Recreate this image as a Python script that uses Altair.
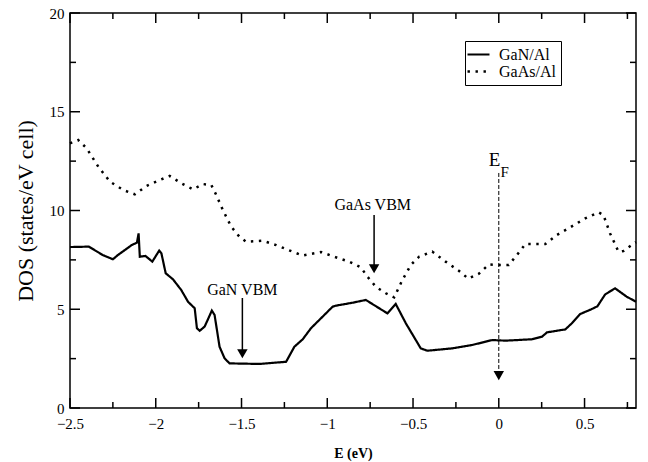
import altair as alt
import pandas as pd

# ---- data ----
gan_e = [-2.5, -2.39, -2.31, -2.25, -2.22, -2.14, -2.11, -2.10, -2.093, -2.06, -2.02, -1.98, -1.967,
         -1.942, -1.90, -1.851, -1.812, -1.773, -1.760, -1.744, -1.715, -1.673, -1.657, -1.628,
         -1.599, -1.570, -1.395, -1.24, -1.192, -1.143, -1.095, -1.008, -0.969, -0.95, -0.853,
         -0.775, -0.649, -0.601, -0.542, -0.455, -0.417, -0.271, -0.155, -0.039, 0.039, 0.194,
         0.252, 0.281, 0.388, 0.426, 0.475, 0.54, 0.575, 0.62, 0.678, 0.745, 0.8]
gan_dos = [8.15, 8.17, 7.75, 7.53, 7.75, 8.25, 8.37, 8.84, 7.66, 7.70, 7.41, 7.97, 7.83,
           6.82, 6.52, 5.97, 5.38, 5.05, 4.04, 3.91, 4.12, 4.93, 4.71, 3.10,
           2.52, 2.26, 2.23, 2.34, 3.10, 3.48, 4.04, 4.79, 5.13, 5.18, 5.33,
           5.47, 4.79, 5.27, 4.29, 3.02, 2.90, 3.02, 3.19, 3.44, 3.41, 3.48,
           3.61, 3.83, 3.98, 4.29, 4.76, 5.0, 5.15, 5.75, 6.06, 5.64, 5.38]

gaas_e = [-2.5, -2.452, -2.403, -2.335, -2.267, -2.19, -2.122, -2.054, -1.977, -1.919, -1.851,
          -1.783, -1.725, -1.676, -1.647, -1.609, -1.560, -1.512, -1.473, -1.376, -1.298, -1.201,
          -1.143, -1.037, -0.95, -0.872, -0.804, -0.766, -0.717, -0.659, -0.61, -0.562, -0.513,
          -0.465, -0.388, -0.31, -0.233, -0.178, -0.116, -0.058, 0.0, 0.058, 0.106, 0.155, 0.271,
          0.339, 0.407, 0.504, 0.581, 0.610, 0.649, 0.698, 0.727, 0.775, 0.8]
gaas_dos = [13.4, 13.57, 13.15, 12.22, 11.46, 11.04, 10.82, 11.24, 11.54, 11.75, 11.38,
            11.07, 11.34, 11.29, 10.78, 10.03, 9.18, 8.67, 8.42, 8.47, 8.25, 7.91,
            7.72, 7.90, 7.63, 7.41, 7.12, 6.65, 6.14, 5.81, 5.6, 6.48, 7.24,
            7.66, 7.92, 7.41, 6.95, 6.55, 6.8, 7.27, 7.24, 7.24, 7.75, 8.30, 8.30,
            8.76, 9.1, 9.6, 9.91, 9.77, 8.84, 7.91, 7.95, 8.25, 8.4]

series_names = ["GaN/Al", "GaAs/Al"]

x_major = [-2.5, -2.0, -1.5, -1.0, -0.5, 0.0, 0.5]
x_minor = [-2.25, -1.75, -1.25, -0.75, -0.25, 0.25, 0.75]
y_major = [0, 5, 10, 15, 20]
y_minor = [2.5, 7.5, 12.5, 17.5]

# annotations: arrows (x, start, tip) and labels
arrow_x = [-1.495, -0.727]
arrow_y1 = [5.57, 9.77]
arrow_tip = [2.43, 6.73]
arrow_labels = ["GaN VBM", "GaAs VBM"]
label_x = [-1.495, -0.735]
label_y = [5.97, 10.28]

ef_x = [0.0]
ef_y1 = [11.9]
ef_tip = [1.32]

W, H = 566, 395
FONT = "Liberation Serif"

xs = alt.Scale(domain=[-2.5, 0.8], nice=False, zero=False)
ys = alt.Scale(domain=[0, 20], nice=False)

df = pd.DataFrame({
    "E": gan_e + gaas_e,
    "DOS": gan_dos + gaas_dos,
    "series": [series_names[0]] * len(gan_e) + [series_names[1]] * len(gaas_e),
})

lines = alt.Chart(df).mark_line(color="black", strokeCap="butt").encode(
    x=alt.X("E:Q", scale=xs,
            axis=alt.Axis(title="E (eV)", values=x_major, ticks=False, domain=False, grid=False,
                          format="~g",
                          labelFont=FONT, labelFontSize=15, labelFontWeight="normal",
                          labelPadding=8, titleFont=FONT, titleFontSize=14,
                          titleFontWeight="bold", titlePadding=15, labelFlush=False)),
    y=alt.Y("DOS:Q", scale=ys,
            axis=alt.Axis(title="DOS (states/eV cell)", values=y_major, ticks=False, domain=False,
                          grid=False, labelFont=FONT, labelFontSize=15, labelFontWeight="normal",
                          labelPadding=6, titleFont=FONT, titleFontSize=22,
                          titleFontWeight="normal", titlePadding=12, labelFlush=False)),
    strokeDash=alt.StrokeDash("series:N",
                              scale=alt.Scale(domain=series_names, range=[[1, 0], [2.4, 5.6]]),
                              legend=alt.Legend(title=None, orient="none", legendX=395, legendY=28)),
    strokeWidth=alt.StrokeWidth("series:N",
                                scale=alt.Scale(domain=series_names, range=[2.2, 2.5]),
                                legend=None),
    detail="series:N",
)

# inward tick marks on all four edges
def xticks(vals, length):
    d = pd.DataFrame({"v": vals})
    bottom = alt.Chart(d).mark_rule(color="black", strokeWidth=1.5).encode(
        x=alt.X("v:Q", scale=xs), y=alt.value(H), y2=alt.value(H - length))
    top = alt.Chart(d).mark_rule(color="black", strokeWidth=1.5).encode(
        x=alt.X("v:Q", scale=xs), y=alt.value(0), y2=alt.value(length))
    return [bottom, top]

def yticks(vals, length):
    d = pd.DataFrame({"v": vals})
    left = alt.Chart(d).mark_rule(color="black", strokeWidth=1.5).encode(
        y=alt.Y("v:Q", scale=ys), x=alt.value(0), x2=alt.value(length))
    right = alt.Chart(d).mark_rule(color="black", strokeWidth=1.5).encode(
        y=alt.Y("v:Q", scale=ys), x=alt.value(W), x2=alt.value(W - length))
    return [left, right]

ticks = xticks(x_major, 10) + xticks(x_minor, 6) + yticks(y_major, 10) + yticks(y_minor, 6)

adf = pd.DataFrame({"x": arrow_x, "y1": arrow_y1, "tip": arrow_tip,
                    "head": [t + 0.32 for t in arrow_tip]})
shafts = alt.Chart(adf).mark_rule(color="black", strokeWidth=1.5).encode(
    x=alt.X("x:Q", scale=xs), y=alt.Y("y1:Q", scale=ys), y2="head:Q")
heads = alt.Chart(adf).mark_point(shape="triangle-down", filled=True, color="black",
                                  size=110, opacity=1).encode(
    x=alt.X("x:Q", scale=xs), y=alt.Y("head:Q", scale=ys))

ldf = pd.DataFrame({"x": label_x, "y": label_y, "t": arrow_labels})
labels = alt.Chart(ldf).mark_text(font=FONT, fontSize=16, color="black",
                                  align="center", baseline="middle").encode(
    x=alt.X("x:Q", scale=xs), y=alt.Y("y:Q", scale=ys), text="t:N")

edf = pd.DataFrame({"x": ef_x, "y1": ef_y1, "tip": ef_tip, "head": [t + 0.32 for t in ef_tip]})
ef_line = alt.Chart(edf).mark_rule(color="black", strokeWidth=1, strokeDash=[4, 2]).encode(
    x=alt.X("x:Q", scale=xs), y=alt.Y("y1:Q", scale=ys), y2="head:Q")
ef_head = alt.Chart(edf).mark_point(shape="triangle-down", filled=True, color="black",
                                    size=110, opacity=1).encode(
    x=alt.X("x:Q", scale=xs), y=alt.Y("head:Q", scale=ys))
ef_e = alt.Chart(pd.DataFrame({"x": [-0.025], "y": [12.56], "t": ["E"]})).mark_text(
    font=FONT, fontSize=19, color="black", align="center", baseline="middle").encode(
    x=alt.X("x:Q", scale=xs), y=alt.Y("y:Q", scale=ys), text="t:N")
ef_f = alt.Chart(pd.DataFrame({"x": [0.035], "y": [11.95], "t": ["F"]})).mark_text(
    font=FONT, fontSize=15, color="black", align="center", baseline="middle").encode(
    x=alt.X("x:Q", scale=xs), y=alt.Y("y:Q", scale=ys), text="t:N")

chart = alt.layer(lines, *ticks, shafts, heads, labels, ef_line, ef_head, ef_e, ef_f).properties(
    width=W, height=H,
    autosize=alt.AutoSizeParams(type="none"),
    padding={"left": 70, "top": 13, "right": 12, "bottom": 54},
    background="white",
).configure_view(stroke="black", strokeWidth=1.5).configure_legend(
    strokeColor="black", fillColor="white", padding=5, cornerRadius=0,
    labelFont=FONT, labelFontSize=16, labelColor="black", labelOffset=12,
    symbolType="M-1.57,0H1.57", symbolStrokeWidth=2.2, symbolSize=196,
    symbolStrokeColor="black", symbolFillColor="transparent",
    rowPadding=0, labelLimit=200,
)

chart.save("out.html", embed_options={"renderer": "svg", "actions": False})
